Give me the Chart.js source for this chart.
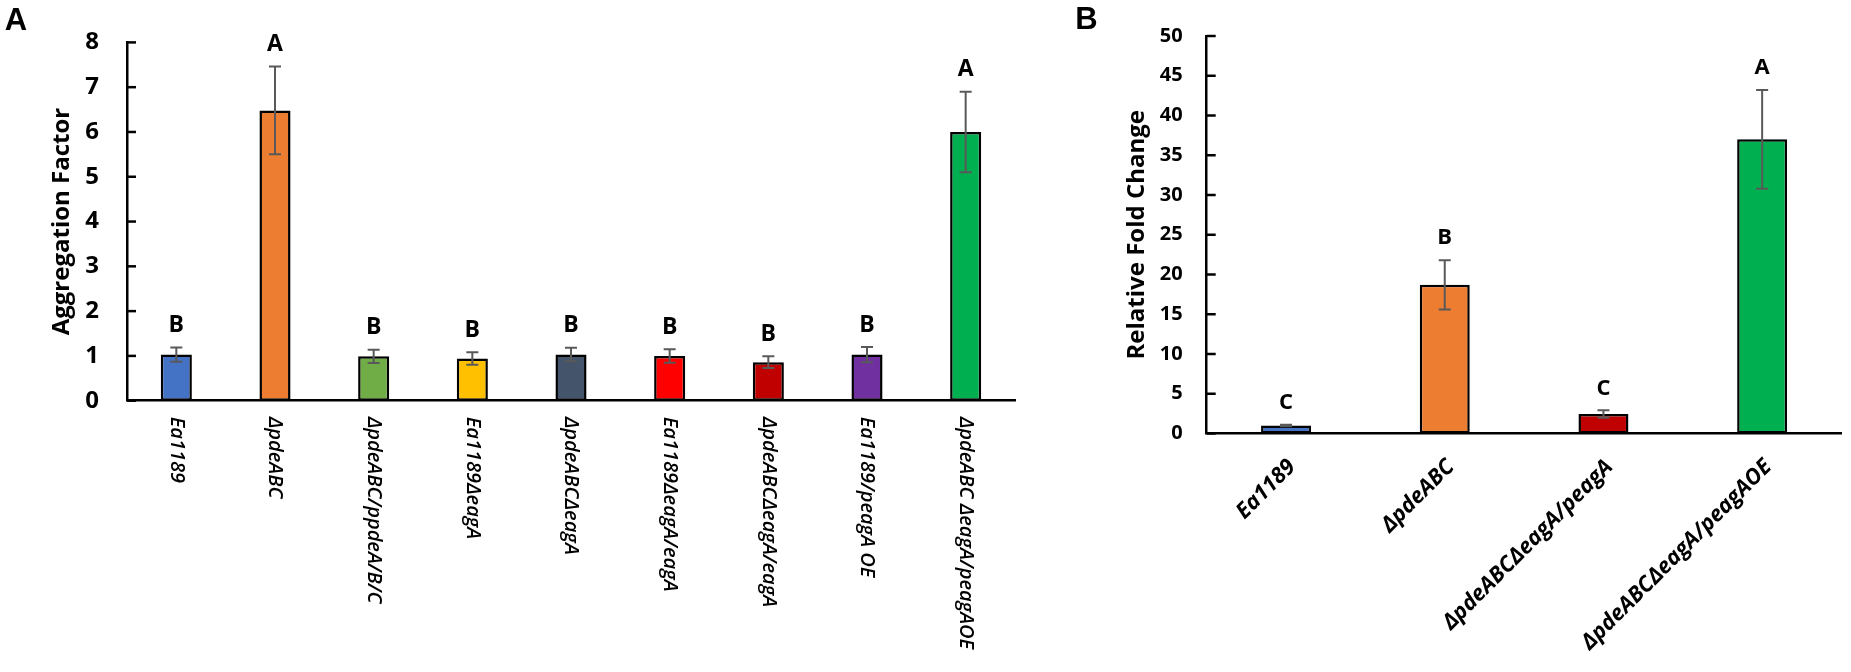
<!DOCTYPE html>
<html lang="en">
<head>
<meta charset="UTF-8">
<title>Aggregation factor and relative fold change</title>
<script src="https://cdn.jsdelivr.net/npm/chart.js@4"></script>
<style>
    html, body { margin: 0; padding: 0; background: #fff; }
    body { width: 1851px; height: 672px; position: relative; overflow: hidden; }
    .panel { position: absolute; top: 0; height: 672px; }
    #panelA { left: 0; width: 1060px; }
    #panelB { left: 1060px; width: 791px; }
</style>
</head>
<body>
<div class="panel" id="panelA"><canvas id="chartA" width="1060" height="672"></canvas></div>
<div class="panel" id="panelB"><canvas id="chartB" width="791" height="672"></canvas></div>

<script>
// Panel A - aggregation factor
const strainsA = ['Ea1189', 'ΔpdeABC', 'ΔpdeABC/ppdeA/B/C', 'Ea1189ΔeagA', 'ΔpdeABCΔeagA',
                  'Ea1189ΔeagA/eagA', 'ΔpdeABCΔeagA/eagA', 'Ea1189/peagA OE', 'ΔpdeABC ΔeagA/peagAOE'];
const aggregationMeans = [1.03, 6.48, 0.99, 0.94, 1.03, 1.00, 0.86, 1.03, 6.00];
const aggregationErrors = [0.16, 0.98, 0.15, 0.14, 0.15, 0.15, 0.13, 0.17, 0.90];
const lettersA = ['B', 'A', 'B', 'B', 'B', 'B', 'B', 'B', 'A'];
const colorsA = ['#4472C4', '#ED7D31', '#70AD47', '#FFC000', '#44546A', '#FF0000', '#C00000', '#7030A0', '#00B050'];

// Panel B - relative fold change
const strainsB = ['Ea1189', 'ΔpdeABC', 'ΔpdeABCΔeagA/peagA', 'ΔpdeABCΔeagA/peagAOE'];
const foldChangeMeans = [1.0, 18.7, 2.45, 37.0];
const foldChangeErrors = [0.1, 3.1, 0.46, 6.2];
const lettersB = ['C', 'B', 'C', 'A'];
const colorsB = ['#4472C4', '#ED7D31', '#C00000', '#00B050'];

const FONT = "'Open Sans', 'DejaVu Sans', sans-serif";

// draws the bits Chart.js doesn't do the Excel way: inside ticks, error bars,
// significance letters, rotated category labels, axis title and panel letter
function panelDecor(opt) {
    return {
        id: 'panelDecor',
        afterDatasetsDraw(chart) {
            const ctx = chart.ctx;
            const xs = chart.scales.x;
            const ys = chart.scales.y;
            const area = chart.chartArea;
            const values = chart.data.datasets[0].data;

            ctx.save();

            // tick marks pointing into the plot
            ctx.strokeStyle = '#000';
            ctx.lineWidth = 2.5;
            ys.ticks.forEach(t => {
                const py = ys.getPixelForValue(t.value);
                ctx.beginPath();
                ctx.moveTo(area.left, py);
                ctx.lineTo(area.left + 9, py);
                ctx.stroke();
            });

            // error bars + letters
            values.forEach((v, i) => {
                const px = xs.getPixelForValue(i);
                const top = ys.getPixelForValue(v + opt.errors[i]);
                const bot = ys.getPixelForValue(v - opt.errors[i]);
                ctx.strokeStyle = '#595959';
                ctx.lineWidth = 2;
                ctx.beginPath();
                ctx.moveTo(px, top); ctx.lineTo(px, bot);
                ctx.moveTo(px - 6, top); ctx.lineTo(px + 6, top);
                ctx.moveTo(px - 6, bot); ctx.lineTo(px + 6, bot);
                ctx.stroke();

                ctx.fillStyle = '#000';
                ctx.font = opt.letterFont;
                ctx.textAlign = 'center';
                ctx.textBaseline = 'middle';
                ctx.fillText(opt.letters[i], px, top - 22);
            });

            // category labels
            ctx.fillStyle = '#000';
            ctx.font = opt.labelFont;
            ctx.textBaseline = 'middle';
            chart.data.labels.forEach((lab, i) => {
                const px = xs.getPixelForValue(i);
                ctx.save();
                if (opt.labelAngle === 90) {
                    ctx.translate(px, area.bottom + 16);
                    ctx.rotate(Math.PI / 2);
                    ctx.textAlign = 'left';
                } else {
                    ctx.translate(px + 6, area.bottom + 30);
                    ctx.rotate(-Math.PI / 4);
                    ctx.textAlign = 'right';
                }
                ctx.fillText(lab, 0, 0);
                ctx.restore();
            });

            // y axis title
            ctx.save();
            ctx.translate(opt.titleX, (area.top + area.bottom) / 2);
            ctx.rotate(-Math.PI / 2);
            ctx.font = 'bold 24px ' + FONT;
            ctx.textAlign = 'center';
            ctx.fillText(opt.title, 0, 0);
            ctx.restore();

            // panel letter
            ctx.font = 'bold 31px "Liberation Sans", Arial, sans-serif';
            ctx.textAlign = 'center';
            ctx.textBaseline = 'middle';
            ctx.fillText(opt.panel, opt.panelX, opt.panelY);

            ctx.restore();
        }
    };
}

function barOptions(cfg) {
    return {
        responsive: false,
        animation: false,
        layout: { padding: { top: cfg.top, right: cfg.right, left: 0, bottom: 0 } },
        plugins: { legend: { display: false }, tooltip: { enabled: false } },
        scales: {
            x: {
                grid: { display: false, drawTicks: false },
                border: { color: '#000', width: 2.5 },
                ticks: { display: false },
                afterFit(s) { s.height = 672 - cfg.bottom; }
            },
            y: {
                min: 0,
                max: cfg.max,
                ticks: {
                    stepSize: cfg.step,
                    color: '#000',
                    padding: cfg.tickPad,
                    font: { family: FONT, weight: 'bold', size: cfg.tickSize }
                },
                grid: { display: false, drawTicks: false },
                border: { color: '#000', width: 2.5 },
                afterFit(s) { s.width = cfg.left; }
            }
        }
    };
}

new Chart(document.getElementById('chartA'), {
    type: 'bar',
    data: {
        labels: strainsA,
        datasets: [{
            data: aggregationMeans,
            backgroundColor: colorsA,
            borderColor: '#000',
            borderWidth: 2.5,
            borderSkipped: false,
            barPercentage: 0.315,
            categoryPercentage: 1
        }]
    },
    options: barOptions({ top: 26.7, right: 45, bottom: 400.7, left: 127, max: 8, step: 1, tickPad: 28, tickSize: 24 }),
    plugins: [panelDecor({
        errors: aggregationErrors,
        letters: lettersA,
        letterFont: 'bold 23px ' + FONT,
        labelFont: 'italic 600 20px ' + FONT,
        labelAngle: 90,
        title: 'Aggregation Factor',
        titleX: 62,
        panel: 'A', panelX: 16, panelY: 21
    })]
});

new Chart(document.getElementById('chartB'), {
    type: 'bar',
    data: {
        labels: strainsB,
        datasets: [{
            data: foldChangeMeans,
            backgroundColor: colorsB,
            borderColor: '#000',
            borderWidth: 2.5,
            borderSkipped: false,
            barPercentage: 0.315,
            categoryPercentage: 1
        }]
    },
    options: barOptions({ top: 16.7, right: 9.5, bottom: 433.5, left: 146.7, max: 50, step: 5, tickPad: 24, tickSize: 20 }),
    plugins: [panelDecor({
        errors: foldChangeErrors,
        letters: lettersB,
        letterFont: 'bold 22px ' + FONT,
        labelFont: 'italic bold 22px ' + FONT,
        labelAngle: 45,
        title: 'Relative Fold Change',
        titleX: 76.7,
        panel: 'B', panelX: 26.5, panelY: 20
    })]
});
</script>
</body>
</html>
